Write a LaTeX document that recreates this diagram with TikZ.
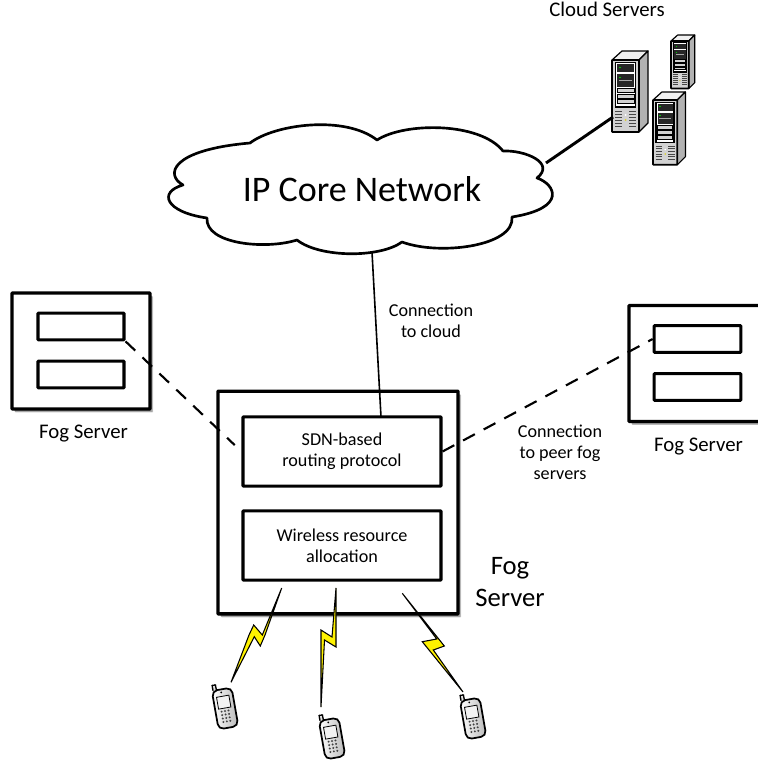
\documentclass[tikz,border=0pt]{standalone}
\usepackage{fontspec}
\setmainfont{Carlito}
\usetikzlibrary{positioning,shadows}

\tikzset{
  fogshadow/.style={double copy shadow={shadow xshift=1pt,shadow yshift=-1.2pt,opacity=.22,fill=black,draw=none},
    drop shadow={shadow xshift=2.4pt,shadow yshift=-2.6pt,opacity=.16,fill=black}},
  fogbox/.style={draw,line width=2.5pt,fill=white,rounded corners=.5pt,inner sep=0pt,fogshadow},
  fogslot/.style={draw,line width=2.3pt,fill=white,rounded corners=.5pt,inner sep=0pt,align=center,font=\fontsize{13.6}{15.8}\selectfont},
  peerlink/.style={line width=1.6pt,dash pattern=on 10pt off 7.5pt},
  bolt/.style={draw,line width=.8pt,fill=yellow,line join=miter},
  lab/.style={align=center,font=\fontsize{13.6}{15.8}\selectfont,inner sep=0pt},
  foglab/.style={inner sep=0pt,font=\fontsize{15.6}{18}\selectfont},
  rack/.pic={
    \draw[line width=.9pt,fill=gray!12,line join=round] (0,0) -- (10,-9) -- (36,-9) -- (27,0) -- cycle;
    \draw[line width=.9pt,fill=gray!60,line join=round] (27,0) -- (36,-9) -- (36,63) -- (27,72) -- cycle;
    \draw[line width=1.3pt,fill=gray!35,rounded corners=.5pt] (0,0) rectangle (27,72);
    \draw[line width=1pt,fill=white] (3.5,2.5) rectangle (23.5,47);
    \fill[black!85] (5,4) rectangle (22,12);
    \fill[black!85] (5,14) rectangle (22,27);
    \fill[green!80!black] (7,7) rectangle (9,8);
    \fill[green!80!black] (7,17) rectangle (9,18);
    \fill[gray!70] (7,19.5) rectangle (20,21);
    \foreach \rowy in {28.5,34,39.5}
      \draw[line width=.6pt,fill=gray!35] (5,\rowy) rectangle (22,\rowy+4);
    \foreach \venty in {51,54,57,60,63,66}{
      \draw[gray!55!black,line width=.5pt] (3,\venty) -- (10,\venty);
      \draw[gray!55!black,line width=.5pt] (17,\venty) -- (24,\venty);
    }
    \fill[white] (13.5,55) circle (1);
    \fill[yellow!85!black] (13.5,60) circle (1);
  },
  handset/.pic={
    \draw[line width=1pt,fill=gray!25,rounded corners=1.5pt] (-8.8,-19) -- (-8.8,-26) arc[start angle=180,end angle=0,radius=1.7] -- (-5.4,-19);
    \draw[line width=1.3pt,rounded corners=4pt,left color=white,right color=gray!55] (-10,-19) rectangle (10,20);
    \draw[line width=.6pt,fill=gray!10] (-6.5,-12) rectangle (6,0);
    \fill (-1,-16) circle (1);
    \foreach \keyx in {-4,-.5,3}
      \foreach \keyy in {3,6.5,10,13.5}
        \fill[black!75] (\keyx,\keyy) circle (1.1);
  }
}

\begin{document}
\begin{tikzpicture}[x=.75pt,y=-.75pt,node distance=36pt,on grid]
  \useasboundingbox (0,0) rectangle (757,760);

  % cloud
  \draw[line width=2pt,fill=white,line join=round] (250,143)
    .. controls (275,124) and (345,115) .. (377,140)
    .. controls (405,122) and (480,122) .. (503,151)
    .. controls (525,150) and (556,163) .. (537,178)
    .. controls (555,184) and (568,208) .. (512,217)
    .. controls (515,246) and (440,256) .. (402,242)
    .. controls (380,258) and (320,258) .. (297,240)
    .. controls (265,250) and (205,244) .. (207,218)
    .. controls (165,212) and (158,192) .. (183,185)
    .. controls (165,175) and (170,150) .. (250,143) -- cycle;
  \node[inner sep=0pt,font=\fontsize{27}{32}\selectfont] (core) at (362,189) {IP Core Network};
  \coordinate (coreout) at (372,252);
  \coordinate (coreport) at (546,163);

  % servers
  \pic at (612,60) {rack};
  \pic[scale=.66] at (671,41) {rack};
  \pic[scale=.9] at (653,100) {rack};
  \coordinate (rackport) at (613,117);
  \node[foglab] (cloudlab) at (607,9) {Cloud Servers};

  % middle fog server
  \node[fogbox,minimum width=180pt,minimum height=167pt] (fog) at (338,502.5) {};
  \node[fogslot,minimum width=148.5pt,minimum height=52pt] (sdn) at (342,451.5) {SDN-based\\routing protocol};
  \node[fogslot,minimum width=148.5pt,minimum height=52pt,below=70.5pt of sdn] (radio) {Wireless resource\\allocation};
  \coordinate (sdntop) at (381,417);
  \node[align=center,inner sep=0pt,font=\fontsize{20}{24.5}\selectfont] (mainlab) at (510,582) {Fog\\Server};

  % left fog server
  \node[fogbox,minimum width=103.5pt,minimum height=87pt] (lfog) at (81,351) {};
  \node[fogslot,minimum width=64.5pt,minimum height=20pt] (ltop) at (81,326.5) {};
  \node[fogslot,minimum width=64.5pt,minimum height=20pt,below=of ltop] (lbot) {};
  \node[foglab] (lfoglab) at (83.5,434) {Fog Server};

  % right fog server
  \node[fogbox,minimum width=103.5pt,minimum height=87pt] (rfog) at (698,363.5) {};
  \node[fogslot,minimum width=65pt,minimum height=20pt] (rtop) at (697.5,339) {};
  \node[fogslot,minimum width=65pt,minimum height=20pt,below=of rtop] (rbot) {};
  \node[foglab] (rfoglab) at (698.5,447) {Fog Server};

  % links
  \draw[line width=1.2pt] (coreout) -- (sdntop);
  \draw[line width=2.2pt] (coreport) -- (rackport);
  \draw[peerlink,shorten >=7pt] (ltop.south east) -- (sdn.west);
  \draw[peerlink] (sdn.east) -- (rtop.west);
  \node[lab] (uplab) at (431,321) {Connection\\to cloud};
  \node[lab] (peerlab) at (560,452) {Connection\\to peer fog\\servers};

  % radio links
  \draw[bolt] (281.7,588) -- (265,635) -- (260.3,646) -- (254.3,636.7) -- (231,682.3) -- (249,635) -- (253.7,625) -- (262.3,635) -- cycle;
  \draw[bolt] (336,588) -- (336,647) -- (324.5,640) -- (321,707) -- (321,630) -- (332,637) -- cycle;
  \draw[bolt] (402.3,593.3) -- (444.3,646) -- (433.3,650) -- (463,692) -- (422.3,641.7) -- (436.7,639) -- cycle;

  % phones
  \pic[rotate=10] at (225,708) {handset};
  \pic[rotate=10] at (332,738) {handset};
  \pic[rotate=10] at (473,718) {handset};
\end{tikzpicture}
\end{document}
